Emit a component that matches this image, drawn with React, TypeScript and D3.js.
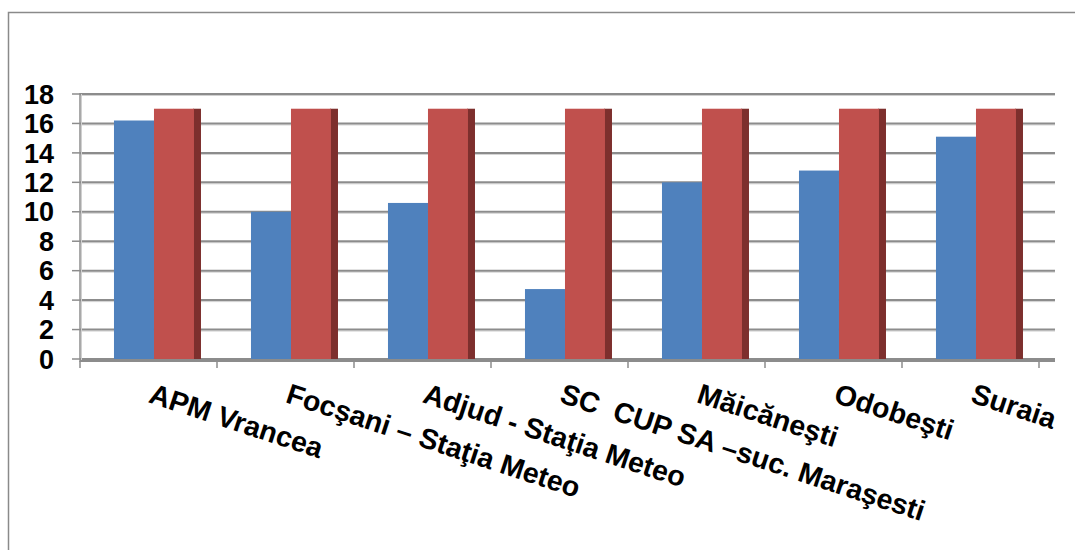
import React from "react";
import * as d3 from "d3";

const categories = [
  "APM Vrancea",
  "Focşani – Staţia Meteo",
  "Adjud - Staţia Meteo",
  "SC  CUP SA –suc. Maraşesti",
  "Măicăneşti",
  "Odobeşti",
  "Suraia",
];
const seriesNames = ["Measured", "Limit"];
const measured = [16.2, 10, 10.6, 4.75, 12, 12.8, 15.1];
const limit = [17, 17, 17, 17, 17, 17, 17];
const yTicks = [0, 2, 4, 6, 8, 10, 12, 14, 16, 18];
const colors = ["#4f81bd", "#c0504d"];
const sideColor = "#7d2f2d";

const W = 1075;
const H = 550;
const left = 80;
const bandEnd = 1039;
const wallEnd = 1055;
const top = 94;
const floor = 359;

export default function App() {
  const x0 = d3.scaleBand<string>().domain(categories).range([left, bandEnd]).padding(0);
  const bw = x0.bandwidth();
  const x1 = d3.scaleBand<string>().domain(seriesNames).range([0, bw * 0.584]).padding(0);
  const offset = bw * 0.248;
  const y = d3.scaleLinear().domain([0, 18]).range([floor, top]);
  const values = [measured, limit];
  const font = "'Liberation Sans', Arial, sans-serif";

  return (
    <svg
      width={W}
      height={H}
      style={{ position: "absolute", left: 0, top: 0, display: "block" }}
    >
      <rect x={0} y={0} width={W} height={H} fill="#fff" />
      <rect x={8.5} y={12.5} width={W + 20} height={H + 20} fill="none" stroke="#8a8a8a" strokeWidth={1.5} />

      {/* gridlines */}
      {yTicks.map((t) => (
        <g key={t}>
          <line x1={left} x2={wallEnd} y1={y(t) + 1.5} y2={y(t) + 1.5} stroke="#d0d0d0" strokeWidth={1} />
          <line x1={left} x2={wallEnd} y1={y(t)} y2={y(t)} stroke="#8c8c8c" strokeWidth={2} />
          <line x1={left - 8} x2={left} y1={y(t)} y2={y(t)} stroke="#8c8c8c" strokeWidth={1.5} />
        </g>
      ))}
      {/* left wall */}
      <line x1={left} x2={left} y1={top - 1} y2={floor + 3} stroke="#8c8c8c" strokeWidth={1.5} />
      <line x1={left + 1.5} x2={left + 1.5} y1={top} y2={floor + 2} stroke="#d0d0d0" strokeWidth={1} />

      {/* bars */}
      {categories.map((c, i) => (
        <g key={c}>
          {seriesNames.map((s, j) => {
            const bx = (x0(c) as number) + offset + (x1(s) as number);
            const w = x1.bandwidth();
            const by = y(values[j][i]);
            return (
              <g key={s}>
                {j === 1 && (
                  <rect x={bx + w - 1} y={by} width={8} height={floor - by} fill={sideColor} />
                )}
                <rect x={bx} y={by} width={w} height={floor - by} fill={colors[j]} />
              </g>
            );
          })}
        </g>
      ))}

      {/* x axis */}
      <line x1={left} x2={wallEnd} y1={floor + 2} y2={floor + 2} stroke="#8c8c8c" strokeWidth={2} />
      {categories.map((c) => (
        <line
          key={"t" + c}
          x1={x0(c) as number}
          x2={x0(c) as number}
          y1={floor + 2}
          y2={floor + 9}
          stroke="#8c8c8c"
          strokeWidth={1.5}
        />
      ))}
      <line x1={bandEnd} x2={bandEnd} y1={floor + 2} y2={floor + 9} stroke="#8c8c8c" strokeWidth={1.5} />

      {/* y labels */}
      {yTicks.map((t) => (
        <text
          key={"l" + t}
          x={54}
          y={y(t)}
          dy="0.36em"
          textAnchor="end"
          fontFamily={font}
          fontWeight="bold"
          fontSize={27}
          fill="#000"
        >
          {t}
        </text>
      ))}

      {/* category labels */}
      {categories.map((c) => {
        const cx = (x0(c) as number) + bw / 2 - 1;
        return (
          <text
            key={"c" + c}
            transform={`translate(${cx},402) rotate(18.2)`}
            textAnchor="start"
            fontFamily={font}
            fontWeight="bold"
            fontSize={28.5}
            fill="#000"
            style={{ whiteSpace: "pre" }}
          >
            {c}
          </text>
        );
      })}
    </svg>
  );
}
